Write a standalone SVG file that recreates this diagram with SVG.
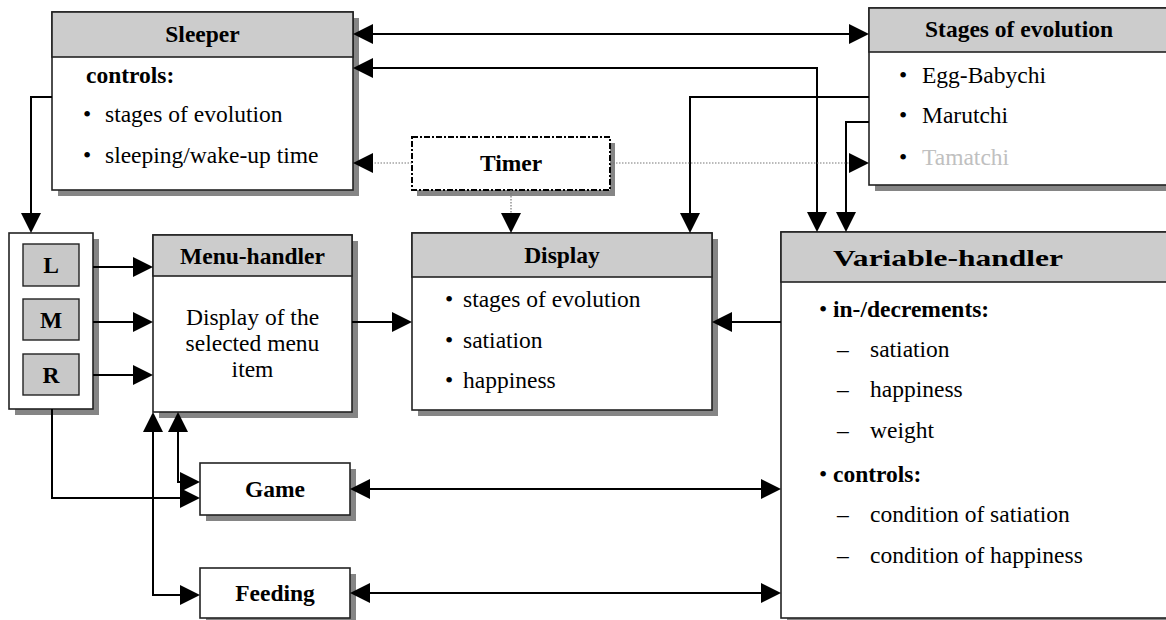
<svg xmlns="http://www.w3.org/2000/svg" width="1166" height="620" viewBox="0 0 1166 620">
<style>
text{font-family:"Liberation Serif","Times New Roman",serif;font-size:23.5px;fill:#000}
.b{font-weight:bold}
.c{text-anchor:middle}
.shadow{fill:#858585}
.box{fill:#fff;stroke:#222;stroke-width:1.6}
.hdr{fill:#cccccc;stroke:#222;stroke-width:1.6}
.btn{fill:#c8c8c8;stroke:#222;stroke-width:1.4}
.timer{fill:#fff;stroke:#000;stroke-width:2;stroke-dasharray:6,2,2,2}
.ln{fill:none;stroke:#000;stroke-width:2}
.dot{fill:none;stroke:#777;stroke-width:1.2;stroke-dasharray:1.5,1.5}
.grey{fill:#c0c0c0}
</style>
<defs>
<marker id="ah" markerUnits="userSpaceOnUse" markerWidth="20" markerHeight="20" viewBox="0 0 20 20" refX="17" refY="10" orient="auto-start-reverse">
<path d="M0,0 L20,10 L0,20 Z" fill="#000"/>
</marker>
</defs>

<g id="sleeper">
<rect class="shadow" x="58" y="18" width="301" height="178"/>
<rect class="box" x="52" y="12" width="301" height="178"/>
<rect class="hdr" x="52" y="12" width="301" height="45"/>
<text class="b c" x="202.5" y="42">Sleeper</text>
<text class="b" x="86" y="83">controls:</text>
<text x="83" y="122">•</text><text x="105" y="122">stages of evolution</text>
<text x="83" y="163">•</text><text x="105" y="163">sleeping/wake-up time</text>
</g>

<g id="stages">
<rect class="shadow" x="875" y="14" width="301" height="177"/>
<rect class="box" x="869" y="8" width="301" height="177"/>
<rect class="hdr" x="869" y="8" width="301" height="44"/>
<text class="b c" x="1019" y="37">Stages of evolution</text>
<text x="899" y="83">•</text><text x="922" y="83">Egg-Babychi</text>
<text x="899" y="123">•</text><text x="922" y="123">Marutchi</text>
<text x="899" y="165">•</text><text class="grey" x="922" y="165">Tamatchi</text>
</g>

<g id="timer">
<rect class="shadow" x="417" y="143" width="198" height="53"/>
<rect class="timer" x="412" y="137" width="198" height="53"/>
<text class="b c" x="511" y="171">Timer</text>
</g>

<g id="buttons">
<rect class="shadow" x="15" y="239" width="84" height="176"/>
<rect class="box" x="9" y="233" width="84" height="176"/>
<g id="btn-L"><rect class="btn" x="23" y="244" width="56" height="42"/><text class="b c" x="51" y="273">L</text></g>
<g id="btn-M"><rect class="btn" x="23" y="299" width="56" height="41"/><text class="b c" x="51" y="328">M</text></g>
<g id="btn-R"><rect class="btn" x="23" y="354" width="56" height="41"/><text class="b c" x="51" y="383">R</text></g>
</g>

<g id="menu-handler">
<rect class="shadow" x="159" y="241" width="199" height="177"/>
<rect class="box" x="153" y="235" width="199" height="177"/>
<rect class="hdr" x="153" y="235" width="199" height="41"/>
<text class="b c" x="252.5" y="264">Menu-handler</text>
<text class="c" x="252.5" y="325">Display of the</text>
<text class="c" x="252.5" y="351">selected menu</text>
<text class="c" x="252.5" y="377">item</text>
</g>

<g id="display">
<rect class="shadow" x="418" y="239" width="300" height="177"/>
<rect class="box" x="412" y="233" width="300" height="177"/>
<rect class="hdr" x="412" y="233" width="300" height="44"/>
<text class="b c" x="562" y="263">Display</text>
<text x="445" y="307">•</text><text x="463" y="307">stages of evolution</text>
<text x="445" y="348">•</text><text x="463" y="348">satiation</text>
<text x="445" y="388">•</text><text x="463" y="388">happiness</text>
</g>

<g id="variable-handler">
<rect class="shadow" x="787" y="238" width="390" height="392"/>
<rect class="box" x="781" y="232" width="390" height="386"/>
<rect class="hdr" x="781" y="232" width="390" height="50"/>
<text class="b" x="833" y="266" font-size="26" textLength="230" lengthAdjust="spacingAndGlyphs">Variable-handler</text>
<text x="819" y="317">•</text><text class="b" x="833" y="317">in-/decrements:</text>
<text x="837" y="357">–</text><text x="870" y="357">satiation</text>
<text x="837" y="397">–</text><text x="870" y="397">happiness</text>
<text x="837" y="438">–</text><text x="870" y="438">weight</text>
<text x="819" y="482">•</text><text class="b" x="833" y="482">controls:</text>
<text x="837" y="522">–</text><text x="870" y="522">condition of satiation</text>
<text x="837" y="563">–</text><text x="870" y="563">condition of happiness</text>
</g>

<g id="game">
<rect class="shadow" x="206" y="469" width="150" height="52"/>
<rect class="box" x="200" y="463" width="150" height="52"/>
<text class="b c" x="275" y="497">Game</text>
</g>

<g id="feeding">
<rect class="shadow" x="206" y="574" width="150" height="50"/>
<rect class="box" x="200" y="568" width="150" height="50"/>
<text class="b c" x="275" y="601">Feeding</text>
</g>

<g id="connectors">
<path class="ln" d="M356,34 H866" marker-start="url(#ah)" marker-end="url(#ah)"/>
<path class="ln" d="M356,68 H817 V229" marker-start="url(#ah)" marker-end="url(#ah)"/>
<path class="ln" d="M869,97 H690 V230" marker-end="url(#ah)"/>
<path class="ln" d="M869,122 H846 V229" marker-end="url(#ah)"/>
<path class="dot" d="M412,163 H356" marker-end="url(#ah)"/>
<path class="dot" d="M610,163 H866" marker-end="url(#ah)"/>
<path class="dot" d="M511,190 V230" marker-end="url(#ah)"/>
<path class="ln" d="M52,97 H31 V230" marker-end="url(#ah)"/>
<path class="ln" d="M93,267 H150" marker-end="url(#ah)"/>
<path class="ln" d="M93,322 H150" marker-end="url(#ah)"/>
<path class="ln" d="M93,375 H150" marker-end="url(#ah)"/>
<path class="ln" d="M352,322 H409" marker-end="url(#ah)"/>
<path class="ln" d="M781,322 H715" marker-end="url(#ah)"/>
<path class="ln" d="M52,409 V498 H197" marker-end="url(#ah)"/>
<path class="ln" d="M178,415 V482 H197" marker-start="url(#ah)" marker-end="url(#ah)"/>
<path class="ln" d="M153,415 V595 H197" marker-start="url(#ah)" marker-end="url(#ah)"/>
<path class="ln" d="M353,489 H778" marker-start="url(#ah)" marker-end="url(#ah)"/>
<path class="ln" d="M353,593 H778" marker-start="url(#ah)" marker-end="url(#ah)"/>
</g>
</svg>
